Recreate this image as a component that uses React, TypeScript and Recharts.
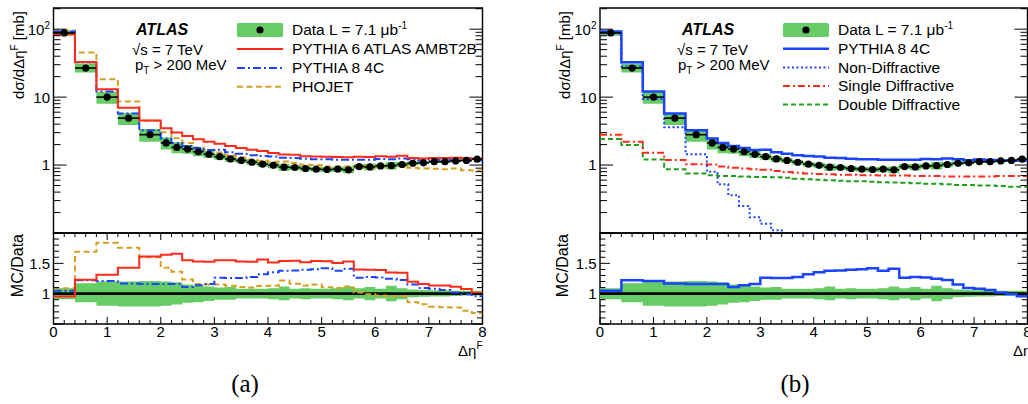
import React from 'react';
import {
  ComposedChart, Line, Area, Scatter, ErrorBar,
  XAxis, YAxis, ReferenceLine, ReferenceArea,
} from 'recharts';

const FONT = "'Liberation Sans', Arial, Helvetica, sans-serif";

// lower bin edges in delta-eta^F, plus the last upper edge
const binEdges = [0, 0.4, 0.8, 1.2, 1.6, 2.0, 2.2, 2.4, 2.6, 2.8, 3.0, 3.2, 3.4, 3.6, 3.8, 4.0, 4.2, 4.4, 4.6, 4.8,
  5.0, 5.2, 5.4, 5.6, 5.8, 6.0, 6.2, 6.4, 6.6, 6.8, 7.0, 7.2, 7.4, 7.6, 7.8, 8.0];

// measured dsigma/d(delta eta) [mb]
const data = [88, 26.8, 10.0, 4.9, 2.8, 2.12, 1.82, 1.72, 1.57, 1.44, 1.33, 1.23, 1.17, 1.10, 1.03, 0.99, 0.93, 0.92,
  0.89, 0.87, 0.86, 0.87, 0.85, 0.95, 0.94, 0.97, 0.98, 1.02, 1.06, 1.08, 1.12, 1.12, 1.15, 1.17, 1.22];
// data uncertainty band, relative to the data
const dataRelLo = [0.91, 0.86, 0.80, 0.79, 0.79, 0.80, 0.82, 0.85, 0.86, 0.88, 0.90, 0.90, 0.92, 0.92, 0.92, 0.91, 0.89,
  0.92, 0.91, 0.92, 0.92, 0.91, 0.89, 0.92, 0.89, 0.92, 0.875, 0.91, 0.94, 0.95, 0.955, 0.955, 0.96, 0.97, 0.97];
const dataRelHi = [1.09, 1.17, 1.20, 1.20, 1.21, 1.20, 1.19, 1.15, 1.13, 1.12, 1.10, 1.11, 1.08, 1.08, 1.08, 1.09, 1.12,
  1.08, 1.09, 1.08, 1.08, 1.09, 1.12, 1.09, 1.11, 1.08, 1.13, 1.09, 1.07, 1.06, 1.055, 1.055, 1.05, 1.05, 1.05];

const pythia6 = [84, 33.0, 13.1, 7.0, 4.51, 3.48, 3.02, 2.67, 2.40, 2.20, 2.06, 1.91, 1.79, 1.68, 1.61, 1.50, 1.43, 1.42,
  1.35, 1.34, 1.32, 1.31, 1.30, 1.33, 1.31, 1.35, 1.32, 1.37, 1.27, 1.25, 1.27, 1.27, 1.28, 1.26, 1.24];
const pythia8 = [92.4, 32.7, 12.1, 5.73, 3.25, 2.46, 2.11, 1.91, 1.79, 1.67, 1.68, 1.55, 1.47, 1.40, 1.36, 1.34, 1.28, 1.27,
  1.24, 1.22, 1.22, 1.20, 1.20, 1.20, 1.20, 1.23, 1.22, 1.25, 1.22, 1.18, 1.21, 1.19, 1.17, 1.16, 1.17];
const phojet = [96, 45.3, 18.4, 8.6, 4.48, 3.03, 2.48, 2.12, 1.82, 1.66, 1.53, 1.39, 1.30, 1.21, 1.16, 1.12, 1.13, 1.07,
  1.01, 1.00, 0.95, 0.95, 0.95, 0.97, 0.93, 0.94, 0.94, 0.98, 0.91, 0.89, 0.88, 0.87, 0.89, 0.84, 0.83];

// PYTHIA 8 components (panel b)
const nonDiff = [87, 28.5, 9.4, 3.6, 1.44, 0.80, 0.52, 0.36, 0.25, 0.17, 0.137, 0.11, 0.1, 0.1, 0.1, 0.1, 0.1, 0.1,
  0.1, 0.1, 0.1, 0.1, 0.1, 0.1, 0.1, 0.1, 0.1, 0.1, 0.1, 0.1, 0.1, 0.1, 0.1, 0.1, 0.1];
const singleDiff = [2.8, 2.2, 1.52, 1.19, 1.03, 1.02, 0.95, 0.91, 0.89, 0.87, 0.85, 0.82, 0.79, 0.77, 0.75, 0.74, 0.73,
  0.72, 0.72, 0.71, 0.71, 0.70, 0.70, 0.70, 0.69, 0.69, 0.69, 0.68, 0.68, 0.68, 0.68, 0.68, 0.69, 0.69, 0.69];
const doubleDiff = [2.42, 1.97, 1.21, 0.87, 0.75, 0.71, 0.69, 0.69, 0.68, 0.67, 0.67, 0.66, 0.65, 0.63, 0.62, 0.61, 0.60,
  0.59, 0.58, 0.58, 0.57, 0.56, 0.555, 0.55, 0.54, 0.53, 0.53, 0.52, 0.51, 0.51, 0.50, 0.50, 0.49, 0.48, 0.48];

const xTicks = [0, 0.2, 0.4, 0.6, 0.8, 1, 1.2, 1.4, 1.6, 1.8, 2, 2.2, 2.4, 2.6, 2.8, 3, 3.2, 3.4, 3.6, 3.8, 4, 4.2, 4.4,
  4.6, 4.8, 5, 5.2, 5.4, 5.6, 5.8, 6, 6.2, 6.4, 6.6, 6.8, 7, 7.2, 7.4, 7.6, 7.8, 8];
const logTicks = [0.1, 0.2, 0.3, 0.4, 0.5, 0.6, 0.7, 0.8, 0.9, 1, 2, 3, 4, 5, 6, 7, 8, 9, 10, 20, 30, 40, 50, 60, 70, 80,
  90, 100, 200];
const logMajor = [0.1, 1, 10, 100];
const ratioTicks = [0.5, 0.6, 0.7, 0.8, 0.9, 1, 1.1, 1.2, 1.3, 1.4, 1.5, 1.6, 1.7, 1.8, 1.9, 2];
const ratioMajor = [0.5, 1, 1.5, 2];

const GREEN_BAND = '#66cc66';
const RED = '#ff2a1a';
const BLUE = '#1a44ff';
const ORANGE = '#d4a020';
const DGREEN = '#1e9e1e';

const last = data.length - 1;
const stepRows = binEdges.map((x, i) => {
  const j = Math.min(i, last);
  return {
    x,
    band: [data[j] * dataRelLo[j], data[j] * dataRelHi[j]],
    rband: [dataRelLo[j], dataRelHi[j]],
    p6: pythia6[j], p8: pythia8[j], ph: phojet[j],
    nd: nonDiff[j], sd: singleDiff[j], dd: doubleDiff[j],
    r6: pythia6[j] / data[j], r8: pythia8[j] / data[j], rph: phojet[j] / data[j],
  };
});

const points = data.map((y, i) => ({
  x: (binEdges[i] + binEdges[i + 1]) / 2,
  y,
  xerr: (binEdges[i + 1] - binEdges[i]) / 2,
}));

type Geo = { left: number; right: number; top: number; bottom: number };

const near = (a: number, list: number[]) => list.some((m) => Math.abs(m - a) < 1e-9);

function xTick(geo: Geo, labels: boolean) {
  return (p: any) => {
    const v = p.payload.value;
    const x = p.x;
    const major = Math.abs(v - Math.round(v)) < 1e-6;
    const len = major ? 7 : 4;
    return (
      <g>
        <line x1={x} x2={x} y1={geo.bottom} y2={geo.bottom - len} stroke="#000" strokeWidth={1} />
        <line x1={x} x2={x} y1={geo.top} y2={geo.top + len} stroke="#000" strokeWidth={1} />
        {labels && major && (
          <text x={x} y={geo.bottom + 12.7} textAnchor="middle" fontSize={15} fontFamily={FONT} fill="#000">
            {Math.round(v)}
          </text>
        )}
      </g>
    );
  };
}

function yTick(geo: Geo, majors: number[], labels: Record<string, React.ReactNode>, majLen: number, minLen: number) {
  return (p: any) => {
    const v = p.payload.value;
    const y = p.y;
    const len = near(v, majors) ? majLen : minLen;
    const lab = labels[String(v)];
    return (
      <g>
        <line x1={geo.left} x2={geo.left + len} y1={y} y2={y} stroke="#000" strokeWidth={1} />
        <line x1={geo.right - len} x2={geo.right} y1={y} y2={y} stroke="#000" strokeWidth={1} />
        {lab && (
          <text x={geo.left - 3.5} y={y} dy="0.36em" textAnchor="end" fontSize={15} fontFamily={FONT} fill="#000">
            {lab}
          </text>
        )}
      </g>
    );
  };
}

const logLabels: Record<string, React.ReactNode> = {
  '1': '1',
  '10': '10',
  '100': <>10<tspan dy={-6} fontSize={10}>2</tspan></>,
};
const ratioLabels: Record<string, React.ReactNode> = { '1': '1', '1.5': '1.5' };

const dot = (p: any) => <circle cx={p.cx} cy={p.cy} r={3.6} fill="#000" />;

function TopChart({ left, width, geo, children }: { left: number; width: number; geo: Geo; children: React.ReactNode }) {
  return (
    <div style={{ position: 'absolute', left, top: 0 }}>
      <ComposedChart width={width} height={243} data={stepRows}
        margin={{ top: geo.top, right: width - geo.right, bottom: 10, left: 0 }}>
        <XAxis dataKey="x" type="number" domain={[0, 8]} ticks={xTicks} interval={0} height={0}
          axisLine={false} tickLine={false} tick={xTick(geo, false)} allowDataOverflow />
        <YAxis type="number" scale="log" domain={[0.1, 205]} ticks={logTicks} interval={0} width={geo.left}
          axisLine={false} tickLine={false} tick={yTick(geo, logMajor, logLabels, 13, 7)} allowDataOverflow />
        <ReferenceArea x1={0} x2={8} y1={0.1} y2={205} fill="none" stroke="#000" strokeWidth={1.4} ifOverflow="visible" />
        <Area dataKey="band" type="stepAfter" fill={GREEN_BAND} fillOpacity={1} stroke="none" isAnimationActive={false} />
        {children}
        <Scatter data={points} dataKey="y" shape={dot} isAnimationActive={false}>
          <ErrorBar dataKey="xerr" direction="x" width={0} stroke="#000" strokeWidth={1.6} isAnimationActive={false} />
        </Scatter>
      </ComposedChart>
    </div>
  );
}

function RatioChart({ left, width, geo, children }: { left: number; width: number; geo: Geo; children: React.ReactNode }) {
  return (
    <div style={{ position: 'absolute', left, top: 223 }}>
      <ComposedChart width={width} height={140} data={stepRows}
        margin={{ top: geo.top, right: width - geo.right, bottom: 0, left: 0 }}>
        <XAxis dataKey="x" type="number" domain={[0, 8]} ticks={xTicks} interval={0} height={39}
          axisLine={false} tickLine={false} tick={xTick(geo, true)} allowDataOverflow />
        <YAxis type="number" domain={[0.5, 2]} ticks={ratioTicks} interval={0} width={geo.left}
          axisLine={false} tickLine={false} tick={yTick(geo, ratioMajor, ratioLabels, 10, 5.5)} allowDataOverflow />
        <ReferenceArea x1={0} x2={8} y1={0.5} y2={2} fill="none" stroke="#000" strokeWidth={1.4} ifOverflow="visible" />
        <Area dataKey="rband" type="stepAfter" fill={GREEN_BAND} fillOpacity={1} stroke="none" isAnimationActive={false} />
        <ReferenceLine y={1} stroke="#000" strokeWidth={2.6} />
        {children}
      </ComposedChart>
    </div>
  );
}

const geoLTop: Geo = { left: 53.5, right: 482.5, top: 8, bottom: 233 };
const geoLBot: Geo = { left: 53.5, right: 482.5, top: 10, bottom: 101 };
const geoRTop: Geo = { left: 54, right: 481.5, top: 8, bottom: 233 };
const geoRBot: Geo = { left: 54, right: 481.5, top: 10, bottom: 101 };

const legendLeft = [
  { label: 'PYTHIA 6 ATLAS AMBT2B', color: RED, dash: undefined, w: 2 },
  { label: 'PYTHIA 8 4C', color: BLUE, dash: '8 3 2 3', w: 2 },
  { label: 'PHOJET', color: ORANGE, dash: '6 3.5', w: 2 },
];
const legendRight = [
  { label: 'PYTHIA 8 4C', color: BLUE, dash: undefined, w: 2.5 },
  { label: 'Non-Diffractive', color: BLUE, dash: '2 2.5', w: 2 },
  { label: 'Single Diffractive', color: RED, dash: '7 3 2 3', w: 2 },
  { label: 'Double Diffractive', color: DGREEN, dash: '5 3', w: 2 },
];

function Legend({ x0, tx, rows, items }: { x0: number; tx: number; rows: number[]; items: typeof legendLeft }) {
  return (
    <g fontFamily={FONT} fontSize={15.5} fill="#000">
      <rect x={x0} y={rows[0] - 7} width={46} height={14} rx={1.5} fill={GREEN_BAND} />
      <circle cx={x0 + 23} cy={rows[0]} r={3.6} fill="#000" />
      <text x={tx} y={rows[0] + 5.4}>Data L = 7.1 μb<tspan dy={-6} fontSize={10}>-1</tspan></text>
      {items.map((it, i) => (
        <g key={it.label}>
          <line x1={x0} x2={x0 + 46} y1={rows[i + 1]} y2={rows[i + 1]} stroke={it.color} strokeWidth={it.w}
            strokeDasharray={it.dash} />
          <text x={tx} y={rows[i + 1] + 5.4}>{it.label}</text>
        </g>
      ))}
    </g>
  );
}

function Labels({ ax, sx, px, yTitleX, mcX, dEtaX, tagX, tag, legend }: any) {
  return (
    <g fontFamily={FONT} fill="#000">
      <text x={ax} y={35} fontSize={16} fontWeight="bold" fontStyle="italic">ATLAS</text>
      <text x={sx} y={54.5} fontSize={15}>√s = 7 TeV</text>
      <text x={px} y={69.5} fontSize={15}>p<tspan dy={4.5} fontSize={10}>T</tspan><tspan dy={-4.5}> &gt; 200 MeV</tspan></text>
      <text transform={`translate(${yTitleX},11) rotate(-90)`} textAnchor="end" fontSize={15}>
        dσ/dΔη<tspan dy={-6} fontSize={10}>F</tspan><tspan dy={6}> [mb]</tspan>
      </text>
      <text transform={`translate(${mcX},234) rotate(-90)`} textAnchor="end" fontSize={16}>MC/Data</text>
      <text x={dEtaX} y={355.5} fontSize={15}>Δη<tspan dy={-7} fontSize={10}>F</tspan></text>
      <text x={tagX} y={391.5} fontSize={25} textAnchor="middle" fontFamily="'Liberation Serif', 'Times New Roman', serif">{tag}</text>
      {legend}
    </g>
  );
}

export default function App() {
  return (
    <div style={{ position: 'absolute', left: 0, top: 0, width: 1028, height: 404, overflow: 'hidden', background: '#fff' }}>
      {/* (a) */}
      <TopChart left={0} width={500} geo={geoLTop}>
        <Line dataKey="ph" type="stepAfter" stroke={ORANGE} strokeWidth={2} strokeDasharray="6 3.5" dot={false} isAnimationActive={false} />
        <Line dataKey="p8" type="stepAfter" stroke={BLUE} strokeWidth={2} strokeDasharray="8 3 2 3" dot={false} isAnimationActive={false} />
        <Line dataKey="p6" type="stepAfter" stroke={RED} strokeWidth={2} dot={false} isAnimationActive={false} />
      </TopChart>
      <RatioChart left={0} width={500} geo={geoLBot}>
        <Line dataKey="rph" type="stepAfter" stroke={ORANGE} strokeWidth={2} strokeDasharray="6 3.5" dot={false} isAnimationActive={false} />
        <Line dataKey="r8" type="stepAfter" stroke={BLUE} strokeWidth={2} strokeDasharray="8 3 2 3" dot={false} isAnimationActive={false} />
        <Line dataKey="r6" type="stepAfter" stroke={RED} strokeWidth={2} dot={false} isAnimationActive={false} />
      </RatioChart>

      {/* (b) */}
      <TopChart left={546} width={482} geo={geoRTop}>
        <Line dataKey="dd" type="stepAfter" stroke={DGREEN} strokeWidth={2} strokeDasharray="5 3" dot={false} isAnimationActive={false} />
        <Line dataKey="sd" type="stepAfter" stroke={RED} strokeWidth={2} strokeDasharray="7 3 2 3" dot={false} isAnimationActive={false} />
        <Line dataKey="nd" type="stepAfter" stroke={BLUE} strokeWidth={2} strokeDasharray="2 2.5" dot={false} isAnimationActive={false} />
        <Line dataKey="p8" type="stepAfter" stroke={BLUE} strokeWidth={2.5} dot={false} isAnimationActive={false} />
      </TopChart>
      <RatioChart left={546} width={482} geo={geoRBot}>
        <Line dataKey="r8" type="stepAfter" stroke={BLUE} strokeWidth={2.5} dot={false} isAnimationActive={false} />
      </RatioChart>

      <svg width={1028} height={404} style={{ position: 'absolute', left: 0, top: 0, pointerEvents: 'none' }}>
        <Labels ax={136} sx={132} px={135} yTitleX={24} mcX={23} dEtaX={458} tagX={245} tag="(a)"
          legend={<Legend x0={237} tx={292} rows={[30, 49, 68, 86.7]} items={legendLeft} />} />
        <Labels ax={682} sx={677} px={678} yTitleX={570} mcX={568} dEtaX={1013} tagX={795} tag="(b)"
          legend={<Legend x0={783} tx={838} rows={[30, 48.8, 67.5, 86, 104.5]} items={legendRight} />} />
      </svg>
    </div>
  );
}
